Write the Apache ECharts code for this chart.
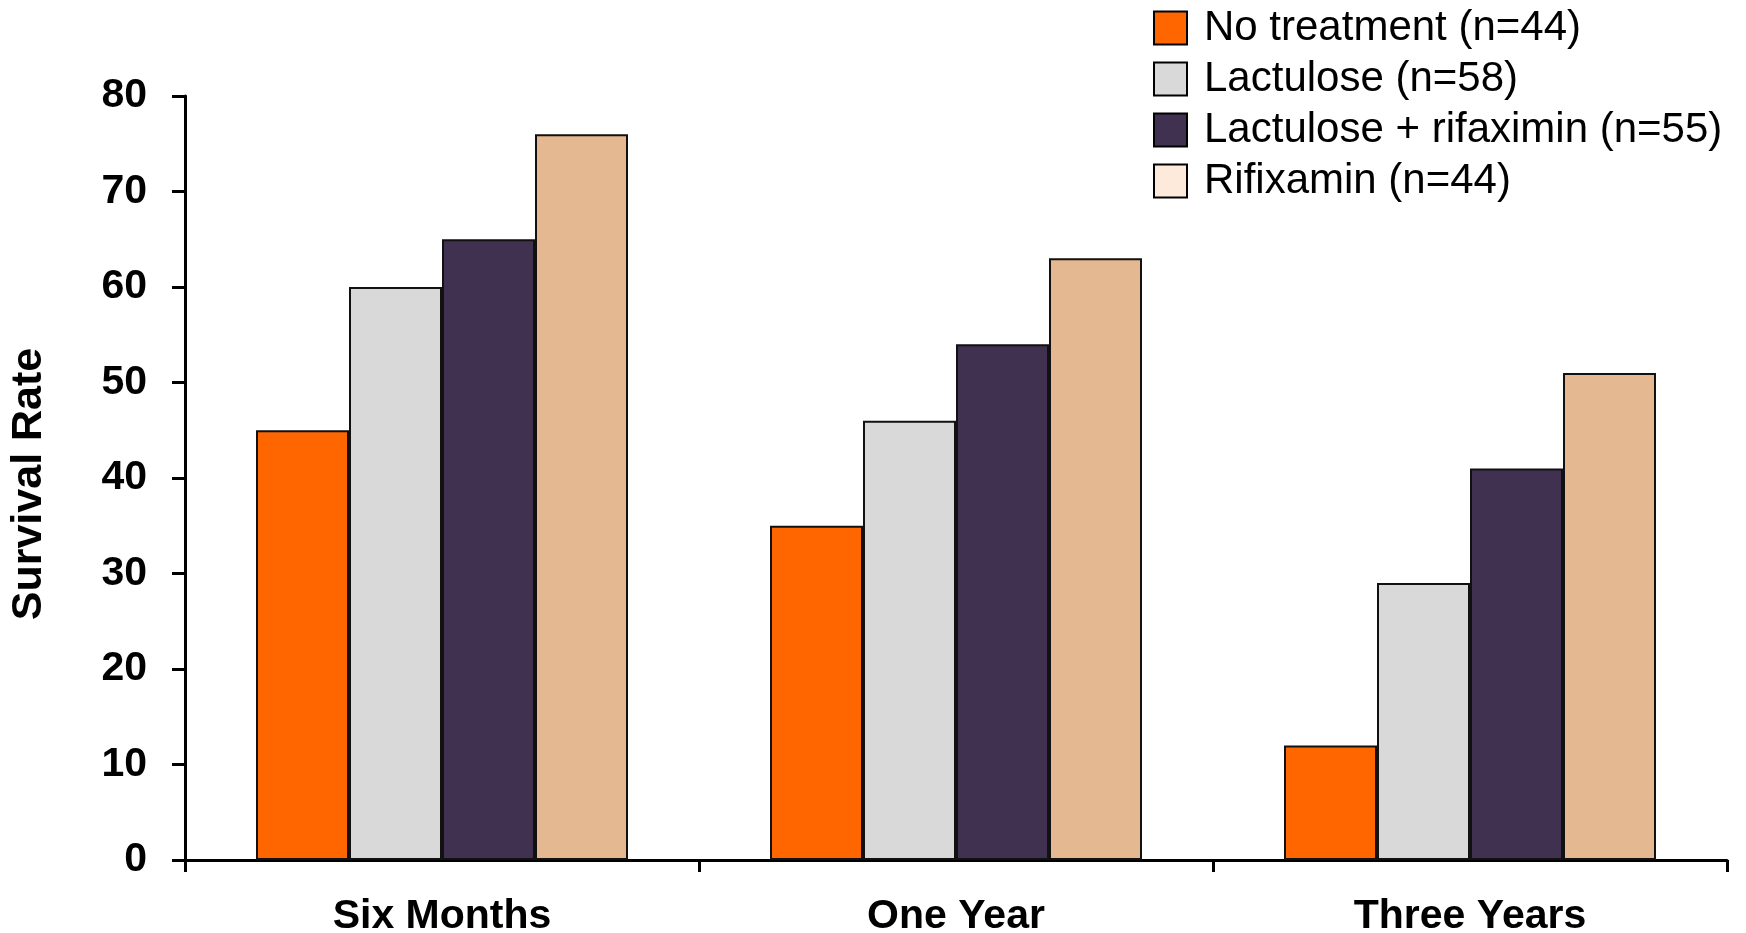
<!DOCTYPE html>
<html>
<head>
<meta charset="utf-8">
<title>Survival Rate by Treatment</title>
<script src="https://cdn.jsdelivr.net/npm/echarts@6/dist/echarts.min.js"></script>
<style>
  html, body { margin: 0; padding: 0; background: #ffffff; }
  #chart { width: 1746px; height: 933px; }
</style>
</head>
<body>
<div id="chart"></div>
<script>
// Time points along the x axis
const periods = ['Six Months', 'One Year', 'Three Years'];

// Survival rate (%) per treatment group at each time point
const noTreatment = [45, 35, 12];
const lactulose = [60, 46, 29];
const lactuloseRifaximin = [65, 54, 41];
const rifixamin = [76, 63, 51];

// Group names shown in the legend
const groupNames = [
  'No treatment (n=44)',
  'Lactulose (n=58)',
  'Lactulose + rifaximin (n=55)',
  'Rifixamin (n=44)'
];

// Value axis range
const yMin = 0;
const yMax = 80;
const yStep = 10;

const barColors = ['#FF6600', '#D9D9D9', '#403151', '#E4B891'];
const legendColors = ['#FF6600', '#D9D9D9', '#403151', '#FDEADA'];
const seriesValues = [noTreatment, lactulose, lactuloseRifaximin, rifixamin];

const FONT = '"Liberation Sans", Arial, Helvetica, sans-serif';

const chart = echarts.init(document.getElementById('chart'), null, { renderer: 'canvas' });

const option = {
  backgroundColor: '#ffffff',
  animation: false,
  grid: {
    left: 185, right: 19, top: 96, bottom: 73,
    containLabel: false,
    outerBoundsMode: 'none'
  },
  legend: {
    orient: 'vertical',
    left: 1148,
    top: 2,
    itemWidth: 33,
    itemHeight: 33,
    itemGap: 9,
    icon: 'rect',
    itemStyle: { borderColor: '#000000', borderWidth: 2 },
    textStyle: {
      fontFamily: FONT,
      fontSize: 42,
      color: '#000000',
      lineHeight: 42,
      padding: [0, 0, 0, 12]
    },
    data: groupNames.map((name, i) => ({
      name: name,
      itemStyle: { color: legendColors[i], borderColor: '#000000', borderWidth: 2 }
    }))
  },
  xAxis: {
    type: 'category',
    data: periods,
    boundaryGap: true,
    axisLine: { show: true, lineStyle: { color: '#000000', width: 3 } },
    axisTick: { show: true, length: 12, lineStyle: { color: '#000000', width: 3 } },
    axisLabel: {
      margin: 36,
      fontFamily: FONT,
      fontSize: 41,
      fontWeight: 'bold',
      color: '#000000'
    },
    splitLine: { show: false }
  },
  yAxis: {
    type: 'value',
    min: yMin,
    max: yMax,
    interval: yStep,
    name: 'Survival Rate',
    nameLocation: 'middle',
    nameRotate: 90,
    nameGap: 134,
    nameTextStyle: {
      fontFamily: FONT,
      fontSize: 43,
      fontWeight: 'bold',
      color: '#000000',
      padding: [0, 12, 0, 0]
    },
    axisLine: { show: true, lineStyle: { color: '#000000', width: 3 } },
    axisTick: { show: true, length: 13, lineStyle: { color: '#000000', width: 3 } },
    axisLabel: {
      margin: 38,
      fontFamily: FONT,
      fontSize: 41,
      fontWeight: 'bold',
      color: '#000000',
      padding: [10, 0, 0, 0]
    },
    splitLine: { show: false }
  },
  series: groupNames.map((name, i) => ({
    name: name,
    type: 'bar',
    data: seriesValues[i],
    barWidth: 93,
    barGap: '0%',
    itemStyle: {
      color: barColors[i],
      borderColor: '#111111',
      borderWidth: 2
    },
    emphasis: { disabled: true }
  }))
};

chart.setOption(option);
</script>
</body>
</html>
